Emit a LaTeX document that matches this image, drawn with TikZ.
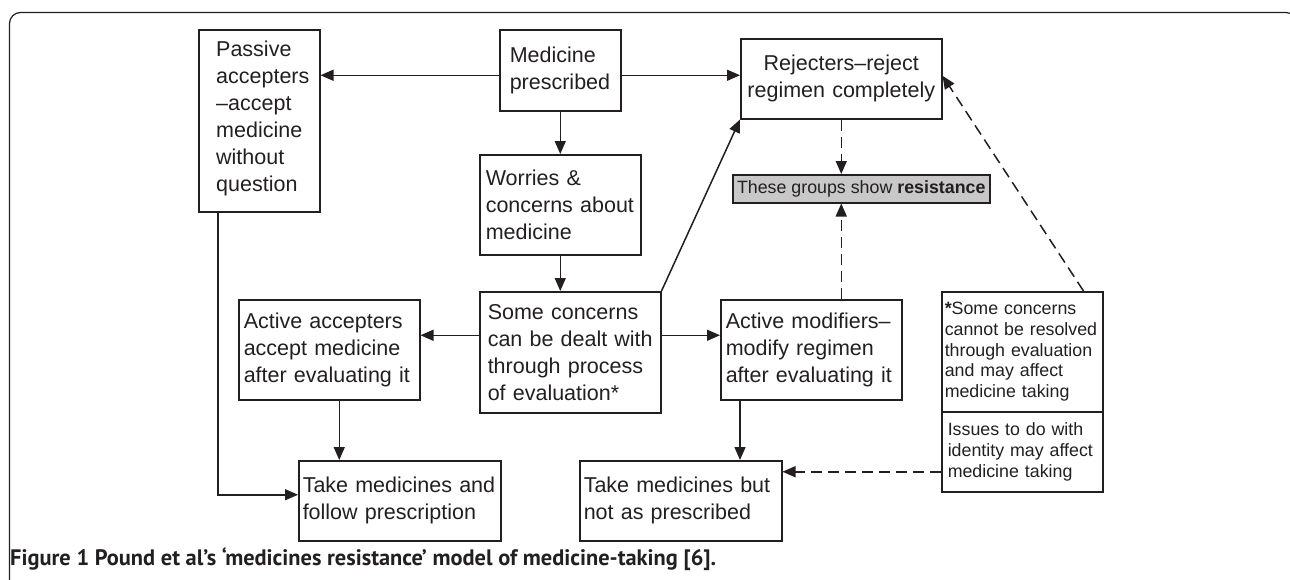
\documentclass[tikz,border=0pt]{standalone}
\usepackage{fontspec}
\usepackage{graphicx}
\setmainfont{Liberation Sans}
\newfontfamily\capfont{PT Sans}
\usetikzlibrary{arrows.meta,calc}
\definecolor{ink}{HTML}{231F20}
\definecolor{grayfill}{HTML}{C8C8C8}
\begin{document}
\begin{tikzpicture}[x=1pt,y=-1pt,
  every node/.style={text=ink},
  bigbox/.style={draw=ink, line width=1.5pt, anchor=north west, align=left, inner ysep=0pt,
     font=\fontsize{21.5}{27}\selectfont},
  smallbox/.style={bigbox, font=\fontsize{17.8}{20.7}\selectfont},
  arr/.style={draw=ink, line width=1.5pt, -{Triangle[length=13pt,width=11pt]}},
  darr/.style={arr, dash pattern=on 11pt off 6pt}
]
\useasboundingbox (0,0) rectangle (1290,579);
% frame
\draw[ink, line width=1.2pt, rounded corners=11pt] (9.5,600) -- (9.5,12.5) -- (1297,12.5) -- (1297,600);

% boxes
\node[bigbox, minimum width=121pt, minimum height=182pt, inner sep=0pt] (passive) at (198,29) {};
\node[anchor=west, align=left, inner sep=0pt, font=\fontsize{21.5}{27}\selectfont] (passivetext)
  at ([xshift=18pt,yshift=2pt]passive.west)
  {Passive\\accepters\\–accept\\medicine\\without\\question};
\node[bigbox, minimum width=121pt, minimum height=81pt, text width=101pt, inner xsep=10pt] (med) at (499,29)
  {Medicine\\prescribed};
\node[bigbox, minimum width=201pt, minimum height=80pt, text width=195pt, inner xsep=3pt, align=center] (rej) at (740,38)
  {Rejecters–reject\\regimen completely};
\node[bigbox, minimum width=161pt, minimum height=100pt, text width=149pt, inner xsep=6pt] (wor) at (479,154)
  {Worries \&\\concerns about\\medicine};
\node[draw=ink, line width=1.5pt, fill=grayfill, anchor=north west, minimum width=257pt, minimum height=28pt,
  inner xsep=3pt, inner ysep=0pt, font=\fontsize{17.8}{20.7}\selectfont] (grp) at (732,174)
  {These groups show \textbf{resistance}};
\node[bigbox, minimum width=181pt, minimum height=121pt, text width=165pt, inner xsep=8pt] (some) at (479,291)
  {Some concerns\\can be dealt with\\through process\\of evaluation*};
\node[bigbox, minimum width=181pt, minimum height=100pt, text width=171pt, inner xsep=5pt] (acc) at (238,299)
  {Active accepters\\accept medicine\\after evaluating it};
\node[bigbox, minimum width=181pt, minimum height=100pt, text width=171pt, inner xsep=5pt] (mod) at (720,299)
  {Active modifiers–\\modify regimen\\after evaluating it};
\node[bigbox, minimum width=202pt, minimum height=80pt, text width=194pt, inner xsep=4pt] (take1) at (298,460)
  {Take medicines and\\follow prescription};
\node[bigbox, minimum width=202pt, minimum height=80pt, text width=194pt, inner xsep=4pt] (take2) at (579,460)
  {Take medicines but\\not as prescribed};
\node[smallbox, minimum width=161pt, minimum height=120pt, text width=155pt, inner xsep=3pt] (star) at (941,291)
  {\textbf{*}Some concerns\\cannot be resolved\\through evaluation\\and may affect\\medicine taking};
\node[smallbox, minimum width=161pt, minimum height=80pt, text width=149pt, inner xsep=6pt] (iss) at (941,411)
  {Issues to do with\\identity may affect\\medicine taking};

% caption
\node[anchor=base west, inner sep=0pt] (cap) at (10,565)
  {\resizebox{706pt}{!}{\capfont\bfseries Figure 1 Pound et al’s ‘medicines resistance’ model of medicine-taking [6].}};

% connectors
\draw[arr] ([yshift=-5pt]med.west) -- ([yshift=-5pt]med.west -| passive.east);
\draw[arr] ([yshift=-5pt]med.east) -- ([yshift=-5pt]med.east -| rej.west);
\draw[arr] (med.south) -- (wor.north);
\draw[arr] (wor.south) -- (wor.south |- some.north);
\draw[arr] (some.north east) -- (rej.south west);
\draw[arr] ([yshift=17pt]some.west) -- ([yshift=17pt]some.west -| acc.east);
\draw[arr] ([yshift=17pt]some.east) -- ([yshift=17pt]some.east -| mod.west);
\draw[arr] ([xshift=10pt]acc.south) -- ([xshift=10pt]acc.south |- take1.north);
\draw[arr] ([xshift=20pt]passive.south west) |- ([yshift=6pt]take1.west);
\draw[arr] ([xshift=20pt]mod.south west) -- ([xshift=20pt]mod.south west |- take2.north);
\draw[darr] (rej.south) -- (rej.south |- grp.north);
\draw[darr] ([xshift=30pt]mod.north) -- ([xshift=30pt]mod.north |- grp.south);
\draw[darr] ([yshift=-20pt]iss.west) -- ([yshift=-20pt]iss.west -| take2.east);
\draw[darr] ([xshift=-20pt]star.north east) -- ([yshift=3pt]rej.east);
\end{tikzpicture}
\end{document}
